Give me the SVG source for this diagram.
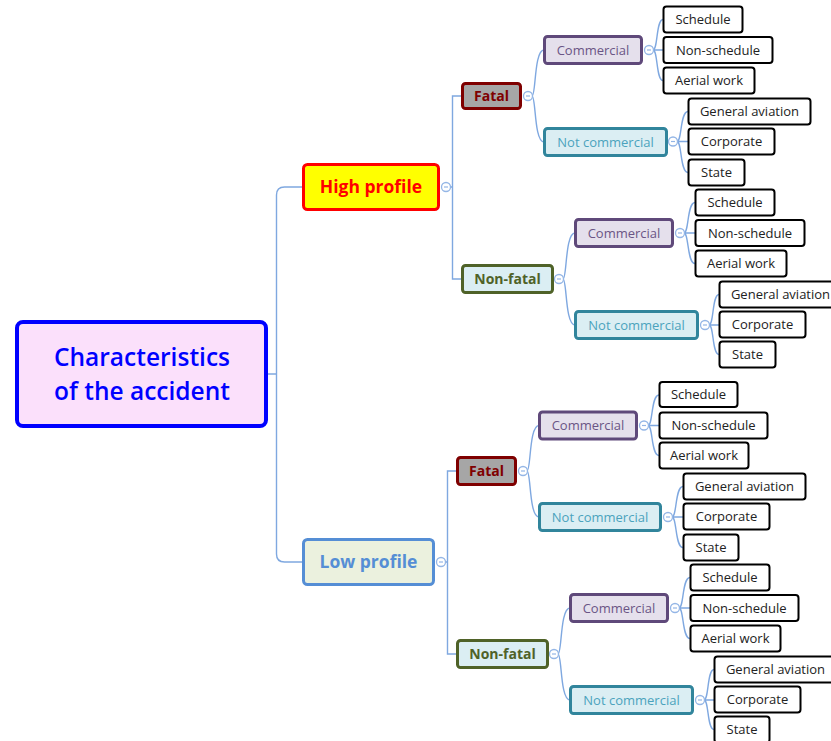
<svg xmlns="http://www.w3.org/2000/svg" width="831" height="741" viewBox="0 0 831 741">
<style>
text{font-family:"Open Sans","Noto Sans","DejaVu Sans",sans-serif;text-anchor:middle}
.c{fill:none;stroke:#7fa8e0;stroke-width:1.4}
.k circle{fill:#fff;stroke:#94b6e6;stroke-width:1.3}
.k path{stroke:#94b6e6;stroke-width:1.2}
.leaf rect{fill:#fff;stroke:#000;stroke-width:2}
.leaf text{font-size:13px;fill:#222}
.com rect{fill:#e5e0ec;stroke:#5f497a;stroke-width:3}
.com text{font-size:13px;fill:#6a5585}
.nc rect{fill:#dbeef3;stroke:#31859c;stroke-width:3}
.nc text{font-size:13px;fill:#4ba3bd}
.fat rect{fill:#a6a6a6;stroke:#7f0000;stroke-width:3}
.fat text{font-size:14px;font-weight:bold;fill:#7f0000}
.nf rect{fill:#dbeef3;stroke:#4f6228;stroke-width:3}
.nf text{font-size:14px;font-weight:bold;fill:#4f6228}
</style>
<rect width="831" height="741" fill="#fff"/>
<g id="connectors">
<path class="c" d="M268,374H276.5M303,187H284.5Q276.5,187 276.5,195V554Q276.5,562 284.5,562H303"/>
<path class="c" d="M450,187H452.5M462,96H452.5V279H462"/>
<path class="c" d="M445,562H447.5M457,471H447.5V654H457"/>
<path class="c" d="M532,96C536,96 534,50 544,50M532,96C536,96 534,142 544,142"/>
<path class="c" d="M563,279C567,279 565,233 575,233M563,279C567,279 565,325 575,325"/>
<path class="c" d="M527,471C531,471 529,425.5 539,425.5M527,471C531,471 529,517 539,517"/>
<path class="c" d="M558,654C562,654 560,608 570,608M558,654C562,654 560,700 570,700"/>
<path class="c" d="M653,50H663M653,50C658,50 656,19.5 663,19.5M653,50C658,50 656,80.5 663,80.5"/>
<path class="c" d="M677,141.5H688M677,141.5C682,141.5 680,111.5 688,111.5M677,141.5C682,141.5 680,172.5 688,172.5"/>
<path class="c" d="M684,233H695M684,233C689,233 687,202.5 695,202.5M684,233C689,233 687,263.5 695,263.5"/>
<path class="c" d="M709,325H719M709,325C714,325 712,294.5 719,294.5M709,325C714,325 712,354.5 719,354.5"/>
<path class="c" d="M648,425.5H659M648,425.5C653,425.5 651,395 659,395M648,425.5C653,425.5 651,455.5 659,455.5"/>
<path class="c" d="M672,517H683M672,517C677,517 675,486.5 683,486.5M672,517C677,517 675,547.5 683,547.5"/>
<path class="c" d="M679,608H690M679,608C684,608 682,577.5 690,577.5M679,608C684,608 682,638.5 690,638.5"/>
<path class="c" d="M704,700H714M704,700C709,700 707,669.5 714,669.5M704,700C709,700 707,729.5 714,729.5"/>
</g>
<g id="toggles" class="k">
<circle cx="446" cy="187" r="4.5"/><path d="M444,187H448"/>
<circle cx="441" cy="562" r="4.5"/><path d="M439,562H443"/>
<circle cx="528" cy="96" r="4.5"/><path d="M526,96H530"/>
<circle cx="559" cy="279" r="4.5"/><path d="M557,279H561"/>
<circle cx="523" cy="471" r="4.5"/><path d="M521,471H525"/>
<circle cx="554" cy="654" r="4.5"/><path d="M552,654H556"/>
<circle cx="649" cy="50" r="4.5"/><path d="M647,50H651"/>
<circle cx="673" cy="141.5" r="4.5"/><path d="M671,141.5H675"/>
<circle cx="680" cy="233" r="4.5"/><path d="M678,233H682"/>
<circle cx="705" cy="325" r="4.5"/><path d="M703,325H707"/>
<circle cx="644" cy="425.5" r="4.5"/><path d="M642,425.5H646"/>
<circle cx="668" cy="517" r="4.5"/><path d="M666,517H670"/>
<circle cx="675" cy="608" r="4.5"/><path d="M673,608H677"/>
<circle cx="700" cy="700" r="4.5"/><path d="M698,700H702"/>
</g>
<g id="root">
<rect x="17" y="322" width="249" height="104" rx="6" fill="#fbe0fb" stroke="#0000ff" stroke-width="4"/>
<text x="142" y="366" font-size="24.5" font-weight="600" fill="#0000ff">Characteristics</text>
<text x="142" y="400" font-size="24.5" font-weight="600" fill="#0000ff">of the accident</text>
</g>
<g id="high-profile">
<rect x="303.5" y="164.5" width="135" height="45" rx="4" fill="#ffff00" stroke="#ff0000" stroke-width="3"/>
<text x="371" y="193" font-size="17.5" font-weight="bold" fill="#ff0000">High profile</text>
</g>
<g id="low-profile">
<rect x="303.5" y="539.5" width="130" height="45" rx="4" fill="#ebf1de" stroke="#558ed5" stroke-width="3"/>
<text x="368.5" y="568" font-size="17.5" font-weight="bold" fill="#558ed5">Low profile</text>
</g>
<g id="hp-fatal" class="fat"><rect x="462.5" y="83.5" width="58" height="25" rx="3"/><text x="491.5" y="101">Fatal</text></g>
<g id="hp-nonfatal" class="nf"><rect x="462.5" y="265.5" width="90" height="27" rx="3"/><text x="507.5" y="284">Non-fatal</text></g>
<g id="lp-fatal" class="fat"><rect x="457.5" y="457.5" width="58" height="27" rx="3"/><text x="486.5" y="476">Fatal</text></g>
<g id="lp-nonfatal" class="nf"><rect x="457.5" y="640.5" width="90" height="27" rx="3"/><text x="502.5" y="659">Non-fatal</text></g>
<g id="hf-commercial" class="com"><rect x="544.5" y="36.5" width="97" height="27" rx="3"/><text x="593" y="54.5">Commercial</text></g>
<g id="hf-notcommercial" class="nc"><rect x="544.5" y="128.5" width="122" height="27" rx="3"/><text x="605.5" y="146.5">Not commercial</text></g>
<g id="hn-commercial" class="com"><rect x="575.5" y="219.5" width="97" height="27" rx="3"/><text x="624" y="237.5">Commercial</text></g>
<g id="hn-notcommercial" class="nc"><rect x="575.5" y="311.5" width="122" height="27" rx="3"/><text x="636.5" y="329.5">Not commercial</text></g>
<g id="lf-commercial" class="com"><rect x="539.5" y="412" width="97" height="27" rx="3"/><text x="588" y="430">Commercial</text></g>
<g id="lf-notcommercial" class="nc"><rect x="539.5" y="503.5" width="121" height="27" rx="3"/><text x="600" y="521.5">Not commercial</text></g>
<g id="ln-commercial" class="com"><rect x="570.5" y="594.5" width="97" height="27" rx="3"/><text x="619" y="612.5">Commercial</text></g>
<g id="ln-notcommercial" class="nc"><rect x="570.5" y="686.5" width="122" height="27" rx="3"/><text x="631.5" y="704.5">Not commercial</text></g>
<g id="hfc-schedule" class="leaf"><rect x="663.5" y="6.5" width="79" height="26" rx="3"/><text x="703" y="24">Schedule</text></g>
<g id="hfc-nonschedule" class="leaf"><rect x="663.5" y="37" width="109" height="26" rx="3"/><text x="718" y="54.5">Non-schedule</text></g>
<g id="hfc-aerial" class="leaf"><rect x="663.5" y="67.5" width="91" height="26" rx="3"/><text x="709" y="85">Aerial work</text></g>
<g id="hfn-general" class="leaf"><rect x="688.5" y="98.5" width="122" height="26" rx="3"/><text x="749.5" y="116">General aviation</text></g>
<g id="hfn-corporate" class="leaf"><rect x="688.5" y="128.5" width="86" height="26" rx="3"/><text x="731.5" y="146">Corporate</text></g>
<g id="hfn-state" class="leaf"><rect x="688.5" y="159.5" width="56" height="26" rx="3"/><text x="716.5" y="177">State</text></g>
<g id="hnc-schedule" class="leaf"><rect x="695.5" y="189.5" width="79" height="26" rx="3"/><text x="735" y="207">Schedule</text></g>
<g id="hnc-nonschedule" class="leaf"><rect x="695.5" y="220" width="109" height="26" rx="3"/><text x="750" y="237.5">Non-schedule</text></g>
<g id="hnc-aerial" class="leaf"><rect x="695.5" y="250.5" width="91" height="26" rx="3"/><text x="741" y="268">Aerial work</text></g>
<g id="hnn-general" class="leaf"><rect x="719.5" y="281.5" width="122" height="26" rx="3"/><text x="780.5" y="299">General aviation</text></g>
<g id="hnn-corporate" class="leaf"><rect x="719.5" y="311.5" width="86" height="26" rx="3"/><text x="762.5" y="329">Corporate</text></g>
<g id="hnn-state" class="leaf"><rect x="719.5" y="341.5" width="56" height="26" rx="3"/><text x="747.5" y="359">State</text></g>
<g id="lfc-schedule" class="leaf"><rect x="659.5" y="382" width="78" height="25" rx="3"/><text x="698.5" y="399">Schedule</text></g>
<g id="lfc-nonschedule" class="leaf"><rect x="659.5" y="412.5" width="108" height="26" rx="3"/><text x="713.5" y="430">Non-schedule</text></g>
<g id="lfc-aerial" class="leaf"><rect x="659.5" y="442.5" width="89" height="26" rx="3"/><text x="704" y="460">Aerial work</text></g>
<g id="lfn-general" class="leaf"><rect x="683.5" y="473.5" width="122" height="26" rx="3"/><text x="744.5" y="491">General aviation</text></g>
<g id="lfn-corporate" class="leaf"><rect x="683.5" y="503.5" width="86" height="26" rx="3"/><text x="726.5" y="521">Corporate</text></g>
<g id="lfn-state" class="leaf"><rect x="683.5" y="534.5" width="55" height="26" rx="3"/><text x="711" y="552">State</text></g>
<g id="lnc-schedule" class="leaf"><rect x="690.5" y="564.5" width="79" height="26" rx="3"/><text x="730" y="582">Schedule</text></g>
<g id="lnc-nonschedule" class="leaf"><rect x="690.5" y="595" width="108" height="26" rx="3"/><text x="744.5" y="612.5">Non-schedule</text></g>
<g id="lnc-aerial" class="leaf"><rect x="690.5" y="625.5" width="90" height="26" rx="3"/><text x="735.5" y="643">Aerial work</text></g>
<g id="lnn-general" class="leaf"><rect x="714.5" y="656.5" width="122" height="26" rx="3"/><text x="775.5" y="674">General aviation</text></g>
<g id="lnn-corporate" class="leaf"><rect x="714.5" y="686.5" width="86" height="26" rx="3"/><text x="757.5" y="704">Corporate</text></g>
<g id="lnn-state" class="leaf"><rect x="714.5" y="716.5" width="55" height="26" rx="3"/><text x="742" y="734">State</text></g>
</svg>
